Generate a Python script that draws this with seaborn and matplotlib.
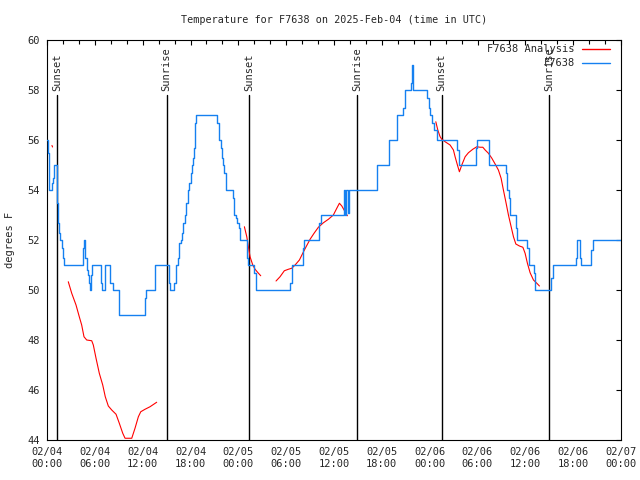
import matplotlib
matplotlib.use('Agg')
import matplotlib.pyplot as plt
import matplotlib.dates as mdates
from matplotlib.lines import Line2D
import seaborn as sns
import pandas as pd
import numpy as np

# station observations (hours after 2025-02-04 00:00 UTC, deg F), drawn as steps
obs_hours = [0.0, 0.1, 0.25, 0.63, 0.75, 0.88, 1.21, 1.29, 1.42, 1.5, 1.63, 1.88, 2.0, 2.13,
             4.5, 4.65, 4.77, 4.98, 5.1, 5.27, 5.4, 5.48, 5.69, 6.78, 6.94, 7.28, 7.95, 8.24,
             9.03, 12.3, 12.42, 13.55, 15.3, 15.43, 15.98, 16.19, 16.4, 16.56, 16.77, 16.9,
             17.1, 17.27, 17.48, 17.69, 17.82, 18.03, 18.15, 18.32, 18.44, 18.53, 18.61, 18.74,
             21.29, 21.62, 21.79, 21.96, 22.13, 22.25, 22.42, 23.3, 23.46, 23.71, 23.88, 24.05,
             24.22, 25.05, 25.26, 26.0, 26.2, 30.49, 30.78, 32.16, 32.29, 34.13, 34.34, 37.26,
             37.42, 37.55, 37.7, 37.82, 41.45, 42.95, 43.95, 44.7, 44.92, 45.63,
             45.76, 45.88, 45.95, 47.72, 47.97, 48.06, 48.27, 48.6, 48.89, 51.4, 51.69, 53.83,
             53.91, 55.5, 57.59, 57.76, 57.97, 58.13, 58.85, 59.01, 60.27, 60.44, 61.1, 61.27,
             63.2, 63.53, 66.33, 66.46, 66.8, 67.0, 68.26, 68.47, 71.95]
obs_temps = [56.0, 55.5, 54.0, 54.3, 54.5, 55.0, 54.5, 53.5, 52.7, 52.3, 52.0, 51.7, 51.3, 51.0,
             51.7, 52.0, 51.3, 50.8, 50.6, 50.3, 50.0, 50.6, 51.0, 50.3, 50.0, 51.0, 50.3, 50.0,
             49.0, 49.7, 50.0, 51.0, 50.3, 50.0, 50.3, 51.0, 51.3, 51.9, 52.0, 52.3,
             52.7, 53.0, 53.5, 54.0, 54.3, 54.7, 55.0, 55.3, 55.7, 56.3, 56.7, 57.0,
             56.7, 56.0, 55.7, 55.3, 55.0, 54.7, 54.0, 53.7, 53.0, 52.9, 52.7, 52.5,
             52.0, 51.3, 51.0, 50.7, 50.0, 50.3, 51.0, 51.7, 52.0, 52.7, 53.0, 54.0,
             53.0, 54.0, 53.1, 54.0, 55.0, 56.0, 57.0, 57.3, 58.0, 58.3,
             59.0, 58.3, 58.0, 57.7, 57.3, 57.0, 56.7, 56.4, 56.0, 55.6, 55.0, 55.7,
             56.0, 55.0, 54.7, 54.0, 53.7, 53.0, 52.5, 52.0, 51.7, 51.0, 50.7, 50.0,
             50.5, 51.0, 51.3, 52.0, 51.3, 51.0, 51.6, 52.0, 52.0]

# analysis series, split into separate runs
ana_hours = [0.62, 0.70,
             2.67, 3.1, 3.64, 4.05, 4.35, 4.64, 4.98, 5.61, 5.81, 6.15, 6.56, 6.99, 7.31, 7.69,
             8.12, 8.66, 9.07, 9.5, 9.79, 10.63, 11.04, 11.46, 11.76, 12.3, 12.92, 13.76,
             24.76, 25.06, 25.26, 25.47, 25.81, 26.1, 26.44, 26.81,
             28.73, 29.23, 29.77, 30.28, 30.7, 31.12, 31.66, 32.08, 32.5, 33.0, 33.5, 34.04,
             34.67, 35.3, 35.92, 36.35, 36.68, 36.98, 37.39, 37.68,
             48.77, 49.02, 49.31, 49.52, 49.94, 50.56, 50.98, 51.19, 51.48, 51.73, 52.03, 52.45,
             52.86, 53.41, 53.91, 54.33, 54.67, 54.96, 55.37, 55.8, 56.21, 56.62, 56.96, 57.25,
             57.59, 57.88, 58.22, 58.51, 58.81, 59.26, 59.69, 59.97, 60.26, 60.6, 61.02, 61.44,
             61.77]
ana_temps = [55.78, 55.72,
             50.33, 49.87, 49.4, 48.93, 48.6, 48.13, 48.0, 47.97, 47.8, 47.27, 46.67, 46.2, 45.73,
             45.36, 45.2, 45.03, 44.67, 44.27, 44.07, 44.07, 44.47, 44.93, 45.13, 45.23, 45.33,
             45.51,
             52.53, 52.13, 51.73, 51.33, 51.0, 50.83, 50.7, 50.57,
             50.36, 50.53, 50.77, 50.83, 50.87, 51.0, 51.2, 51.47, 51.73, 52.03, 52.27, 52.51,
             52.69, 52.83, 53.0, 53.27, 53.47, 53.36, 53.13, 52.97,
             56.73, 56.4, 56.13, 56.03, 55.93, 55.8, 55.6, 55.33, 55.0, 54.73, 55.0, 55.33,
             55.49, 55.63, 55.73, 55.71, 55.71, 55.6, 55.47, 55.27, 55.04, 54.8, 54.47, 54.0,
             53.47, 53.0, 52.53, 52.13, 51.84, 51.76, 51.71, 51.47, 51.07, 50.69, 50.4, 50.27,
             50.16]
ana_run = [0] * 2 + [1] * 26 + [2] * 8 + [3] * 20 + [4] * 37

sun_hours = [1.3, 15.0, 25.38, 38.93, 49.5, 63.03]
sun_labels = ['Sunset', 'Sunrise', 'Sunset', 'Sunrise', 'Sunset', 'Sunrise']

start = pd.Timestamp('2025-02-04 00:00')
blue = '#1580f0'


def to_time(hours):
    return start + pd.to_timedelta(np.asarray(hours), unit='h')


obs = pd.DataFrame({'time': to_time(obs_hours), 'temp': obs_temps})
ana = pd.DataFrame({'time': to_time(ana_hours), 'temp': ana_temps, 'run': ana_run})

sns.set_style('white')
plt.rcParams['font.family'] = ['DejaVu Sans Mono']
plt.rcParams['font.size'] = 7.5

fig = plt.figure(figsize=(6.4, 4.8), dpi=100)
ax = fig.add_axes([47 / 640, 40 / 480, 574 / 640, 400 / 480])

for h, lab in zip(sun_hours, sun_labels):
    t = to_time([h])[0]
    ax.axvline(t, ymin=0, ymax=0.8625, color='black', lw=1, zorder=1)
    ax.text(t, 0.872, lab, rotation=90, ha='center', va='bottom',
            transform=ax.get_xaxis_transform(), fontsize=7.5)

sns.lineplot(data=ana, x='time', y='temp', units='run', estimator=None, sort=False,
             color='red', lw=0.8, ax=ax, legend=False, zorder=2)
sns.lineplot(data=obs, x='time', y='temp', estimator=None, sort=False,
             drawstyle='steps-post', color=blue, lw=1.0, ax=ax, legend=False, zorder=3)

ax.set_xlim(start, start + pd.Timedelta(hours=72))
ax.set_ylim(44, 60)
ax.set_yticks(np.arange(44, 61, 2))
ax.xaxis.set_major_locator(mdates.HourLocator(byhour=range(0, 24, 6)))
ax.xaxis.set_minor_locator(mdates.HourLocator(byhour=range(0, 24, 2)))
ax.xaxis.set_major_formatter(mdates.DateFormatter('%m/%d\n%H:%M'))

ax.tick_params(which='both', direction='in', top=True, right=True, color='black',
               width=0.8, labelsize=7.5)
ax.tick_params(which='major', length=3.5, pad=5)
ax.tick_params(which='minor', length=2.8)
for s in ax.spines.values():
    s.set_color('black')
    s.set_linewidth(0.8)

ax.set_xlabel('')
ax.set_ylabel('degrees F', fontsize=7.5, labelpad=9)
ax.set_title('Temperature for F7638 on 2025-Feb-04 (time in UTC)', fontsize=7.3, pad=12.5)

handles = [Line2D([], [], color='red', lw=1), Line2D([], [], color=blue, lw=1)]
ax.legend(handles, ['F7638 Analysis', 'F7638'], loc='upper right',
          bbox_to_anchor=(0.981, 0.989), frameon=False, markerfirst=False,
          handlelength=2.7, handletextpad=0.7, labelspacing=0.38, borderpad=0,
          borderaxespad=0, fontsize=7.5)

fig.savefig('out.png', dpi=100)
